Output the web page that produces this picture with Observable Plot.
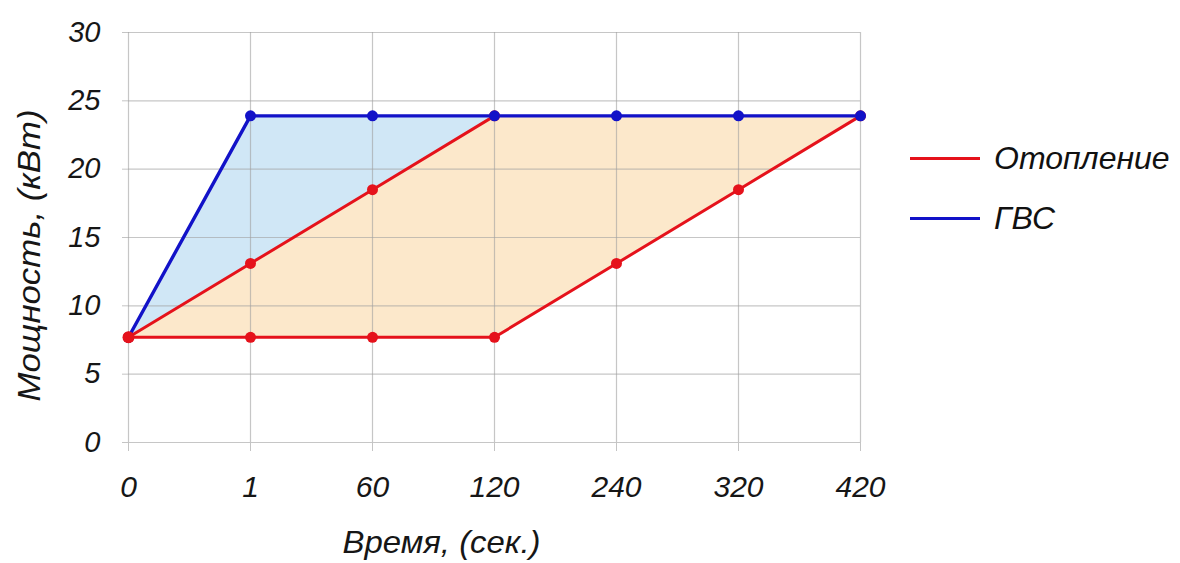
<!DOCTYPE html>
<html><head><meta charset="utf-8">
<script src="https://cdn.jsdelivr.net/npm/d3@7"></script>
<script src="https://cdn.jsdelivr.net/npm/@observablehq/plot@0.6"></script>
<style>
body{margin:0;background:#fff;}
#wrap{position:relative;width:1180px;height:563px;}
.legend{position:absolute;left:910px;top:0;font:italic 32px "Liberation Sans",Arial,sans-serif;color:#111;}
.item{position:absolute;left:0;display:flex;align-items:center;white-space:nowrap;height:40px;}
.sw{width:70px;height:3px;margin-right:14px;}
</style></head><body><div id="wrap"></div>
<script>
const times = ["0","1","60","120","240","320","420"];
const gvs = [7.7, 23.9, 23.9, 23.9, 23.9, 23.9, 23.9];
const heatingFast = [7.7, 13.1, 18.5, 23.9];
const heatingSlow = [7.7, 7.7, 7.7, 7.7, 13.1, 18.5, 23.9];
const yTicks = [0, 5, 10, 15, 20, 25, 30];
const seriesNames = ["Отопление", "ГВС"];
const seriesColors = ["#e5121b", "#1212c8"];
const xTitle = "Время, (сек.)";
const yTitle = "Мощность, (кВт)";

const gvsRows = times.map((t, i) => ({t, v: gvs[i]}));
const fastRows = heatingFast.map((v, i) => ({t: times[i], v}));
const slowRows = times.map((t, i) => ({t, v: heatingSlow[i]}));
const blueArea = heatingFast.map((v, i) => ({t: times[i], lo: v, hi: gvs[i]}));
const orangeArea = times.map((t, i) => ({t, lo: heatingSlow[i], hi: i < heatingFast.length ? heatingFast[i] : gvs[i]}));

const font = '"Liberation Sans", Arial, sans-serif';
const chart = Plot.plot({
  width: 1180, height: 563,
  marginLeft: 128, marginRight: 320, marginTop: 32, marginBottom: 121,
  style: {fontFamily: font, fontStyle: "italic", fontSize: "30px", color: "#161616", background: "#fff"},
  x: {type: "point", domain: times, padding: 0},
  y: {domain: [0, 30]},
  marks: [
    Plot.areaY(orangeArea, {x: "t", y1: "lo", y2: "hi", fill: "#fce8cb"}),
    Plot.areaY(blueArea, {x: "t", y1: "lo", y2: "hi", fill: "#d0e7f6"}),
    Plot.gridX(times, {stroke: "#a0a0a0", strokeOpacity: 0.6, strokeWidth: 1.2}),
    Plot.gridY(yTicks, {stroke: "#a0a0a0", strokeOpacity: 0.6, strokeWidth: 1.2}),
    Plot.axisX(times, {tickSize: 9, tickPadding: 24, stroke: "#c4c4c4", fill: "#161616", fontSize: 30,
      label: xTitle, labelAnchor: "center", labelOffset: 110, labelArrow: "none"}),
    Plot.axisY(yTicks, {tickSize: 6, tickPadding: 22, stroke: "#c4c4c4", fill: "#161616", fontSize: 29,
      label: yTitle, labelAnchor: "center", labelOffset: 111, labelArrow: "none"}),
    Plot.line(slowRows, {x: "t", y: "v", stroke: seriesColors[0], strokeWidth: 3}),
    Plot.line(fastRows, {x: "t", y: "v", stroke: seriesColors[0], strokeWidth: 3}),
    Plot.line(gvsRows, {x: "t", y: "v", stroke: seriesColors[1], strokeWidth: 3.4}),
    Plot.dot(slowRows, {x: "t", y: "v", r: 5.5, fill: seriesColors[0]}),
    Plot.dot(fastRows, {x: "t", y: "v", r: 5.5, fill: seriesColors[0]}),
    Plot.dot(gvsRows, {x: "t", y: "v", r: 5.5, fill: seriesColors[1]}),
    Plot.dot(slowRows.slice(0, 1), {x: "t", y: "v", r: 6, fill: seriesColors[0]})
  ]
});
const wrap = document.getElementById("wrap");
wrap.appendChild(chart);

// adjust axis titles to the reference's size and placement
d3.select(chart).selectAll("text").each(function() {
  const t = this.textContent;
  if (t === yTitle) {
    d3.select(this).attr("font-size", 31).attr("textLength", 292).attr("lengthAdjust", "spacingAndGlyphs").attr("dx", -18);
  } else if (t === xTitle) {
    d3.select(this).attr("font-size", 32).attr("textLength", 198).attr("lengthAdjust", "spacingAndGlyphs").attr("dx", -53);
  }
});

const legend = document.createElement("div");
legend.className = "legend";
seriesNames.forEach((name, i) => {
  const item = document.createElement("div");
  item.className = "item";
  item.style.top = (138 + i * 60) + "px";
  const sw = document.createElement("span");
  sw.className = "sw";
  sw.style.background = seriesColors[i];
  const tx = document.createElement("span");
  tx.textContent = name;
  item.appendChild(sw); item.appendChild(tx);
  legend.appendChild(item);
});
wrap.appendChild(legend);
</script></body></html>
